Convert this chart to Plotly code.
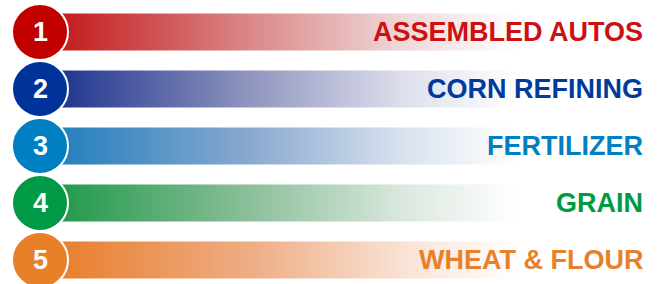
import numpy as np
import plotly.graph_objects as go

# ---- data ----
ranks = [1, 2, 3, 4, 5]
industries = ["ASSEMBLED AUTOS", "CORN REFINING", "FERTILIZER", "GRAIN", "WHEAT & FLOUR"]
circle_colors = ["#C20000", "#00339A", "#0080C3", "#009A46", "#E8802A"]
text_colors = ["#CC1111", "#003A9B", "#0080C0", "#009A44", "#E8802A"]
bar_start = ["#C41E1E", "#223790", "#2580BE", "#239A4C", "#E8802E"]
bar_mid = ["#DB8A8A", "#9297C0", "#8CAAD0", "#8EC09C", "#EFAE86"]
bar_light = ["#F0D8D8", "#DDDFEC", "#D8E2EF", "#DAE8DE", "#F9E2D4"]

# ---- layout geometry (pixels / row units) ----
W, H = 657, 284
row_px = 57.0
first_center_px = 32.0
circle_cx, circle_r = 40.0, 28.0
bar_x0, fade_start, fade_end, bar_x1 = 40.0, 63.0, 517.0, 520.0
bar_half = 18.5 / row_px
label_x = 645.0

y_top = 1 - first_center_px / row_px
y_bot = 1 + (H - first_center_px) / row_px

fig = go.Figure()

edges = np.arange(bar_x0, bar_x1 + 0.1, 2.0)
centers = (edges[:-1] + edges[1:]) / 2
for r, c0, c1, c2 in zip(ranks, bar_start, bar_mid, bar_light):
    fig.add_trace(go.Heatmap(
        x=edges, y=[r - bar_half, r + bar_half],
        z=[centers.tolist()],
        zmin=fade_start, zmax=fade_end,
        colorscale=[[0, c0], [0.42, c1], [0.75, c2], [1, "#FFFFFF"]],
        showscale=False, hoverinfo="skip", zsmooth=False,
    ))

cr_y = circle_r / row_px
for r, cc, tc, name in zip(ranks, circle_colors, text_colors, industries):
    fig.add_shape(type="circle", xref="x", yref="y",
                  x0=circle_cx - circle_r, x1=circle_cx + circle_r,
                  y0=r - cr_y, y1=r + cr_y,
                  fillcolor=cc, line=dict(color="white", width=2), layer="above")
    fig.add_annotation(x=circle_cx, y=r, text=str(r), showarrow=False,
                       xanchor="center", yanchor="middle",
                       font=dict(family="Liberation Sans, Arial", size=27, color="white", weight="bold"))
    fig.add_annotation(x=label_x, y=r, text=name, showarrow=False,
                       xanchor="right", yanchor="middle",
                       font=dict(family="Liberation Sans, Arial", size=27, color=tc, weight="bold"))

fig.update_layout(
    width=W, height=H, margin=dict(l=0, r=0, t=0, b=0),
    paper_bgcolor="white", plot_bgcolor="white",
    xaxis=dict(range=[0, W], visible=False, fixedrange=True),
    yaxis=dict(range=[y_bot, y_top], visible=False, fixedrange=True),
    showlegend=False,
)

fig.write_html("out.html", config={"displayModeBar": False},
               post_script="document.body.style.margin='0';document.body.style.overflow='hidden';")
